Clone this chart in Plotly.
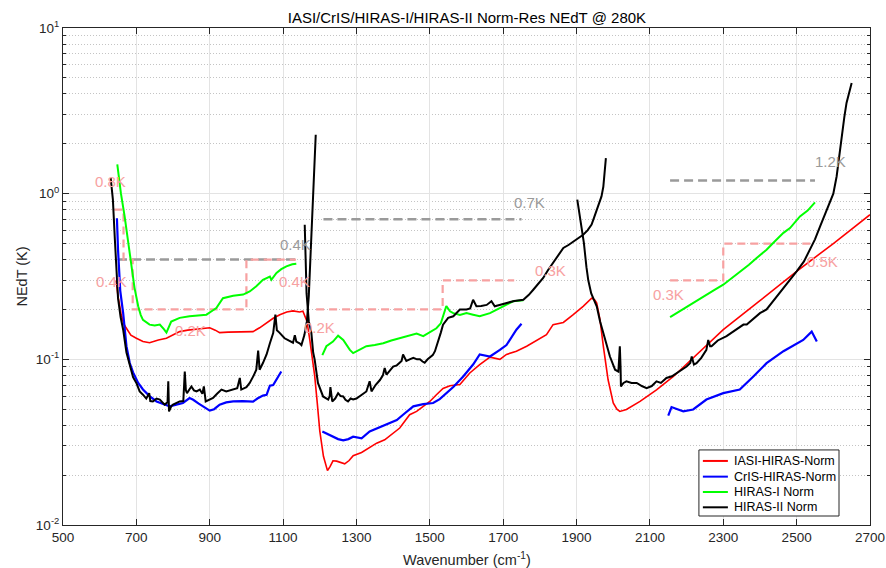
import math
import plotly.graph_objects as go

# ---------------- data ----------------
iasi_x = [645, 650, 658, 665, 672, 685, 700, 718, 736, 760, 782, 800, 818, 840, 864, 885, 900, 915, 927, 950,
          982, 1018, 1036, 1055, 1073, 1091, 1110, 1127, 1145, 1154, 1165, 1173, 1180, 1186, 1193, 1200, 1210,
          1218, 1221, 1228, 1236, 1246, 1255, 1268, 1280, 1291, 1314, 1332, 1355, 1377, 1396, 1418, 1445, 1464,
          1482, 1500, 1518, 1536, 1555, 1582, 1609, 1636, 1664, 1680, 1691, 1709, 1736, 1764, 1791, 1818, 1836,
          1864, 1891, 1918, 1941, 1950, 1955, 1964, 1973, 1986, 2000, 2010, 2018, 2036, 2073, 2118, 2164, 2230,
          2300, 2400, 2500, 2600, 2700]
iasi_y = [0.30, 0.24, 0.19, 0.165, 0.155, 0.140, 0.134, 0.128, 0.126, 0.131, 0.134, 0.140, 0.147, 0.150, 0.152,
          0.155, 0.155, 0.150, 0.145, 0.146, 0.147, 0.147, 0.155, 0.166, 0.177, 0.186, 0.193, 0.196, 0.193, 0.195,
          0.17, 0.13, 0.10, 0.08, 0.055, 0.037, 0.026, 0.0218, 0.0213, 0.0225, 0.0244, 0.0243, 0.0239, 0.0234,
          0.0245, 0.0262, 0.0274, 0.0291, 0.0312, 0.0327, 0.0351, 0.0385, 0.0463, 0.0485, 0.052, 0.0557, 0.0611,
          0.0667, 0.0693, 0.0705, 0.0827, 0.0928, 0.103, 0.101, 0.100, 0.107, 0.112, 0.120, 0.130, 0.141, 0.162,
          0.167, 0.186, 0.209, 0.234, 0.228, 0.219, 0.173, 0.120, 0.0753, 0.0545, 0.050, 0.0485, 0.0498, 0.0557,
          0.0655, 0.0788, 0.108, 0.151, 0.226, 0.34, 0.50, 0.746]

cris_x = [647, 650, 656, 664, 673, 682, 691, 705, 718, 736, 755, 773, 791, 809, 827, 845, 855, 870, 882, 900,
          912, 927, 945, 964, 990, 1018, 1030, 1045, 1055, 1064, 1073, 1085, 1095, None,
          1207, 1220, 1236, 1250, 1264, 1278, 1291, 1314, 1336, 1364, 1391, 1410, 1427, 1455, 1482, 1509, 1527,
          1545, 1564, 1591, 1618, 1636, 1650, 1664, 1691, 1709, 1736, 1750, None,
          2150, 2159, 2175, 2191, 2218, 2254, 2300, 2345, 2382, 2418, 2464, 2518, 2541, 2555]
cris_y = [0.71, 0.46, 0.26, 0.19, 0.12, 0.095, 0.0834, 0.072, 0.0658, 0.060, 0.0557, 0.054, 0.052, 0.0533,
          0.0545, 0.0584, 0.057, 0.054, 0.052, 0.049, 0.050, 0.0533, 0.055, 0.0557, 0.056, 0.0555, 0.058, 0.0604,
          0.061, 0.0693, 0.070, 0.077, 0.0844, None,
          0.0367, 0.0355, 0.0341, 0.033, 0.0324, 0.033, 0.0341, 0.0334, 0.0367, 0.039, 0.0412, 0.043, 0.0463,
          0.052, 0.0537, 0.0545, 0.0575, 0.062, 0.068, 0.0788, 0.093, 0.107, 0.106, 0.104, 0.114, 0.122, 0.151,
          0.164, None,
          0.0457, 0.0515, 0.050, 0.0485, 0.0498, 0.0572, 0.0625, 0.0657, 0.0788, 0.0948, 0.112, 0.131, 0.147, 0.128]

hiras1_x = [648, 658, 668, 678, 686, 695, 705, 712, 718, 736, 750, 764, 775, 782, 795, 818, 845, 873, 891, 905,
            918, 936, 964, 991, 1009, 1027, 1045, 1064, 1068, 1082, 1095, 1109, 1125, 1136, None,
            1207, 1218, 1236, 1250, 1264, 1282, 1291, 1310, 1327, 1350, 1373, 1395, 1418, 1440, 1464, 1482, 1500,
            1518, 1530, 1536, 1545, 1555, 1564, 1582, 1600, 1618, 1636, 1664, 1691, 1709, 1727, 1755, None,
            2155, 2180, 2209, 2230, 2254, 2275, 2300, 2320, 2345, 2370, 2391, 2418, 2436, 2464, 2482, 2509, 2530,
            2545, 2550]
hiras1_y = [1.5, 1.0, 0.73, 0.5, 0.364, 0.27, 0.209, 0.185, 0.173, 0.162, 0.160, 0.162, 0.152, 0.145, 0.169,
            0.178, 0.182, 0.184, 0.186, 0.195, 0.204, 0.234, 0.242, 0.246, 0.257, 0.276, 0.302, 0.316, 0.302, 0.332,
            0.35, 0.364, 0.375, 0.378, None,
            0.106, 0.12, 0.128, 0.139, 0.131, 0.114, 0.109, 0.115, 0.12, 0.122, 0.125, 0.13, 0.134, 0.138, 0.143,
            0.138, 0.145, 0.154, 0.165, 0.18, 0.21, 0.195, 0.19, 0.185, 0.19, 0.186, 0.182, 0.19, 0.204, 0.215,
            0.224, 0.227, None,
            0.18, 0.195, 0.213, 0.228, 0.245, 0.262, 0.282, 0.305, 0.339, 0.372, 0.409, 0.459, 0.504, 0.58, 0.62,
            0.729, 0.79, 0.858, 0.886]

hiras2_x = [630, 636, 641, 646, 650, 657, 664, 673, 682, 691, 700, 709, 718, 727, 735, 738, 745, 755, 764, 777,
            785, 787, 789, 795, 800, 818, 828, 832, 835, 838, 850, 857, 864, 873, 880, 884, 889, 900, 909, 920,
            932, 945, 964, 975, 982, 986, 1000, 1009, 1020, 1027, 1032, 1036, 1045, 1055, 1064, 1073, 1079, 1083,
            1090, 1104, 1115, 1122, 1127, 1132, 1136, 1145, 1150, 1158, 1165, 1170, 1175, 1180, 1185, 1189, None,
            1159, 1162, 1164, 1170, 1177, 1182, 1186, 1195, 1209, 1223, 1227, 1229, 1234, 1242, 1250, 1257, 1264,
            1270, 1277, 1284, 1291, 1300, 1309, 1318, 1327, 1336, 1341, 1352, 1364, 1372, 1377, 1382, 1391, 1400,
            1410, 1423, 1427, 1436, 1445, 1455, 1465, 1473, 1480, 1486, 1494, 1500, 1508, 1514, 1523, 1530, 1536,
            1545, 1550, 1564, 1572, 1582, 1600, 1610, 1618, 1627, 1640, 1655, 1668, 1677, 1690, 1709, 1730, 1755,
            1770, 1782, 1795, 1809, 1822, 1836, 1850, 1864, 1878, 1891, 1905, 1918, 1930, 1941, 1948, 1955, 1962,
            1968, 1973, 1977, 1980, None,
            1902, 1908, 1914, 1920, 1927, 1932, 1940, 1955, 1964, 1973, 1982, 1991, 2005, 2014, 2016, 2018, 2020,
            2021, 2028, 2036, 2050, 2064, 2078, 2091, 2105, 2118, 2130, 2145, 2160, 2173, 2187, 2200, 2210, 2214,
            2220, 2227, 2240, 2254, 2259, 2264, 2268, 2285, 2309, 2330, 2355, 2364, 2380, 2400, 2418, 2440, 2464,
            2482, 2500, 2520, 2536, 2550, 2564, 2578, 2591, 2600, 2609, 2616, 2623, 2630, 2636, 2643, 2650]
hiras2_y = [1.24, 0.92, 0.55, 0.317, 0.234, 0.18, 0.151, 0.11, 0.091, 0.078, 0.072, 0.064, 0.0612, 0.058, 0.0625,
            0.056, 0.0557, 0.058, 0.0572, 0.0533, 0.055, 0.0737, 0.0485, 0.052, 0.0533, 0.0557, 0.056, 0.0844,
            0.065, 0.0625, 0.0686, 0.065, 0.064, 0.0657, 0.062, 0.0686, 0.0557, 0.057, 0.0584, 0.062, 0.0657, 0.064,
            0.0657, 0.067, 0.0772, 0.0657, 0.068, 0.072, 0.08, 0.0866, 0.113, 0.0866, 0.095, 0.107, 0.125, 0.144,
            0.186, 0.15, 0.145, 0.134, 0.13, 0.127, 0.126, 0.14, 0.128, 0.125, 0.122, 0.14, 0.17, 0.24, 0.42, 0.75,
            1.3, 2.27, None,
            0.65, 0.4, 0.25, 0.17, 0.145, 0.11, 0.1, 0.072, 0.0597, 0.0572, 0.06, 0.068, 0.0557, 0.058, 0.0625, 0.06,
            0.0597, 0.057, 0.0557, 0.058, 0.0572, 0.058, 0.0597, 0.062, 0.064, 0.0737, 0.064, 0.07, 0.075, 0.08,
            0.0887, 0.0808, 0.086, 0.0905, 0.092, 0.0977, 0.107, 0.0977, 0.1, 0.102, 0.1, 0.1, 0.097, 0.0955, 0.1,
            0.102, 0.106, 0.112, 0.128, 0.145, 0.162, 0.173, 0.178, 0.182, 0.19, 0.2, 0.2, 0.203, 0.229, 0.209,
            0.21, 0.213, 0.224, 0.209, 0.213, 0.219, 0.225, 0.229, 0.245, 0.263, 0.285, 0.31, 0.345, 0.381, 0.42,
            0.47, 0.49, 0.515, 0.54, 0.565, 0.6, 0.65, 0.72, 0.8, 0.88, 0.963, 1.1, 1.33, 1.64, None,
            0.92, 0.75, 0.606, 0.504, 0.36, 0.30, 0.25, 0.209, 0.17, 0.144, 0.12, 0.104, 0.0866, 0.0844, 0.1, 0.12,
            0.09, 0.0686, 0.072, 0.0737, 0.072, 0.072, 0.069, 0.067, 0.069, 0.0737, 0.072, 0.0772, 0.079, 0.0824,
            0.086, 0.0905, 0.095, 0.104, 0.093, 0.0948, 0.102, 0.114, 0.131, 0.12, 0.12, 0.13, 0.138, 0.148, 0.162,
            0.162, 0.175, 0.19, 0.2, 0.23, 0.27, 0.30, 0.34, 0.39, 0.459, 0.53, 0.635, 0.75, 0.878, 1.0, 1.27, 1.7,
            2.22, 2.9, 3.53, 4.1, 4.66]

# requirement step lines
req_pink_x = [640, 665, 665, 690, 690, 1000, 1000, 1135, None, 1190, 1535, 1535, 1730, None, 2155, 2300, 2300, 2545]
req_pink_y = [0.8, 0.8, 0.4, 0.4, 0.2, 0.2, 0.4, 0.4, None, 0.2, 0.2, 0.3, 0.3, None, 0.3, 0.3, 0.5, 0.5]
req_gray_x = [650, 1135, None, 1210, 1750, None, 2155, 2550]
req_gray_y = [0.4, 0.4, None, 0.7, 0.7, None, 1.2, 1.2]

# requirement labels
lab_text = ["0.8K", "0.4K", "0.4K", "0.4K", "0.2K", "0.2K", "0.7K", "0.3K", "0.3K", "0.5K", "1.2K"]
lab_x = [581, 584, 1085, 1083, 800, 1151, 1723, 1781, 2102, 2522, 2544]
lab_y = [1.18, 0.294, 0.49, 0.294, 0.149, 0.156, 0.879, 0.344, 0.245, 0.39, 1.57]
lab_kind = ["pink", "pink", "gray", "pink", "pink", "pink", "gray", "pink", "pink", "pink", "gray"]

series_names = ["IASI-HIRAS-Norm", "CrIS-HIRAS-Norm", "HIRAS-I Norm", "HIRAS-II Norm"]
series_colors = ["#FF0000", "#0000FF", "#00FF00", "#000000"]
series_widths = [1.6, 2.2, 2.0, 2.0]

x_ticks = [500, 700, 900, 1100, 1300, 1500, 1700, 1900, 2100, 2300, 2500, 2700]
y_tickvals = [0.01, 0.1, 1, 10]
y_ticktext = ["10<sup>-2</sup>", "10<sup>-1</sup>", "10<sup>0</sup>", "10<sup>1</sup>"]

# ---------------- figure ----------------
FONT = "Liberation Sans, Arial, Helvetica, sans-serif"
PINK = "#F7A1A1"
GRAY = "#9A9A9A"
AX = "#262626"

fig = go.Figure()

fig.add_trace(go.Scatter(x=req_gray_x, y=req_gray_y, mode="lines", showlegend=False, hoverinfo="skip",
                         line=dict(color=GRAY, width=2.5, dash="9px,5px")))
fig.add_trace(go.Scatter(x=req_pink_x, y=req_pink_y, mode="lines", showlegend=False, hoverinfo="skip",
                         line=dict(color=PINK, width=2.2, dash="8px,5px")))

all_x = [iasi_x, cris_x, hiras1_x, hiras2_x]
all_y = [iasi_y, cris_y, hiras1_y, hiras2_y]
for name, xs, ys, c, w in zip(series_names, all_x, all_y, series_colors, series_widths):
    fig.add_trace(go.Scatter(x=xs, y=ys, mode="lines", name=name, showlegend=False,
                             line=dict(color=c, width=w), connectgaps=False))

for t, x, y, k in zip(lab_text, lab_x, lab_y, lab_kind):
    fig.add_annotation(x=x, y=math.log10(y), xref="x", yref="y", text=t, showarrow=False,
                       xanchor="left", yanchor="middle",
                       font=dict(family=FONT, size=15, color=PINK if k == "pink" else GRAY))

# manual legend (MATLAB-style compact box)
lx0, lx1, ly0, ly1 = 0.788, 0.9616, 0.0181, 0.151
fig.add_shape(type="rect", xref="paper", yref="paper", x0=lx0, x1=lx1, y0=ly0, y1=ly1,
              line=dict(color=AX, width=1), fillcolor="white", layer="above")
entry_y = [0.1289, 0.0973, 0.0664, 0.0356]
for name, c, ey in zip(series_names, series_colors, entry_y):
    fig.add_shape(type="line", xref="paper", yref="paper", x0=0.7929, x1=0.8239, y0=ey, y1=ey,
                  line=dict(color=c, width=2), layer="above")
    fig.add_annotation(x=0.8286, y=ey, xref="paper", yref="paper", text=name, showarrow=False,
                       xanchor="left", yanchor="middle", font=dict(family=FONT, size=12.5, color="#000000"))

# axis titles
fig.add_annotation(x=0.5, y=-0.068, xref="paper", yref="paper", text="Wavenumber (cm<sup>-1</sup>)",
                   showarrow=False, xanchor="center", yanchor="middle", font=dict(family=FONT, size=14.5, color=AX))
fig.add_annotation(x=-0.052, y=0.5, xref="paper", yref="paper", text="NEdT (K)", textangle=-90,
                   showarrow=False, xanchor="center", yanchor="middle", font=dict(family=FONT, size=14.5, color=AX))

fig.update_layout(
    width=886, height=568,
    margin=dict(l=63, r=16, t=28, b=43, autoexpand=False),
    paper_bgcolor="white", plot_bgcolor="white",
    font=dict(family=FONT, size=13.5, color=AX),
    title=dict(text="IASI/CrIS/HIRAS-I/HIRAS-II Norm-Res NEdT @ 280K", x=0.527, xanchor="center",
               y=1 - 18 / 568, yanchor="middle", yref="container",
               font=dict(family=FONT, size=15, color="#000000")),
    showlegend=False,
)
fig.update_xaxes(range=[500, 2700], tickvals=x_ticks, ticks="inside", ticklen=6, tickcolor=AX,
                 showline=True, linecolor=AX, linewidth=1, mirror="ticks", automargin=False,
                 showgrid=True, gridcolor="#E3E3E3", gridwidth=1, zeroline=False,
                 tickfont=dict(family=FONT, size=13.5, color=AX))
fig.update_yaxes(type="log", range=[-2, 1], tickvals=y_tickvals, ticktext=y_ticktext,
                 ticks="inside", ticklen=6, tickcolor=AX, automargin=False,
                 showline=True, linecolor=AX, linewidth=1, mirror="ticks",
                 showgrid=True, gridcolor="#E3E3E3", gridwidth=1, zeroline=False,
                 tickfont=dict(family=FONT, size=13.5, color=AX),
                 minor=dict(dtick="D1", ticks="inside", ticklen=3, tickcolor=AX, showgrid=True,
                            gridcolor="#C4C4C4", griddash="1px,2px", gridwidth=1))

fig.write_html("out.html")
